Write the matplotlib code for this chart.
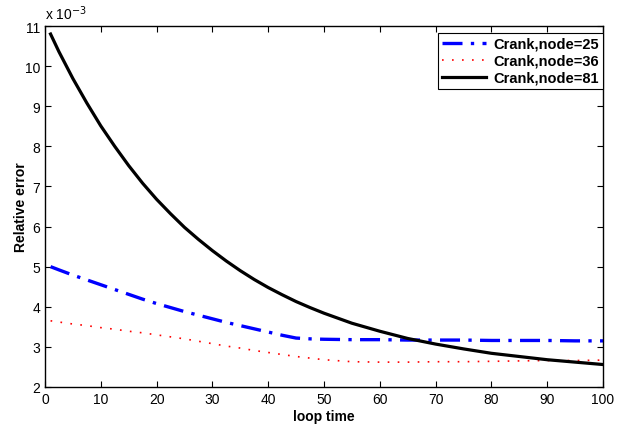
import matplotlib
matplotlib.use("Agg")
from matplotlib import pyplot as plt

plt.rcParams['font.family'] = ['Liberation Sans', 'DejaVu Sans']

# loop time samples
loop_time = [1, 2.5, 5, 7.5, 10, 12.5, 15, 17.5, 20, 22.5, 25, 27.5, 30, 32.5, 35, 37.5, 40,
             42.5, 45, 47.5, 50, 55, 60, 65, 70, 75, 80, 85, 90, 95, 100]

# relative error, in units of 1e-3
err_node25 = [5.00, 4.92, 4.79, 4.67, 4.55, 4.43, 4.31, 4.19, 4.08, 3.98, 3.88, 3.79, 3.70,
              3.61, 3.53, 3.45, 3.37, 3.29, 3.22, 3.20, 3.19, 3.18, 3.18, 3.17, 3.17, 3.17,
              3.16, 3.16, 3.16, 3.15, 3.15]
err_node36 = [3.65, 3.62, 3.57, 3.53, 3.48, 3.44, 3.39, 3.35, 3.30, 3.25, 3.20, 3.14, 3.08,
              3.02, 2.97, 2.91, 2.86, 2.81, 2.76, 2.72, 2.68, 2.63, 2.62, 2.62, 2.63, 2.63,
              2.64, 2.65, 2.66, 2.66, 2.67]
err_node81 = [10.80, 10.36, 9.69, 9.08, 8.51, 8.00, 7.52, 7.08, 6.68, 6.32, 5.98, 5.68, 5.40,
              5.14, 4.90, 4.68, 4.48, 4.30, 4.13, 3.98, 3.84, 3.59, 3.39, 3.21, 3.07, 2.95,
              2.84, 2.76, 2.68, 2.62, 2.56]

labels = ["Crank,node=25", "Crank,node=36", "Crank,node=81"]
x_ticks = list(range(0, 101, 10))
y_ticks = list(range(2, 12))

fig = plt.figure(figsize=(6.3, 4.31), dpi=100)
ax = fig.add_axes([0.0714, 0.0998, 0.8857, 0.8375])

ax.plot(loop_time, err_node25, color="#0000ff", linestyle=(0, (6, 2.5, 1, 2.5)), linewidth=2.4, label=labels[0])
ax.plot(loop_time, err_node36, color="#ff0000", linestyle=(0, (1, 5)), linewidth=1.2, label=labels[1])
ax.plot(loop_time, err_node81, color="black", linestyle="-", linewidth=2.3, label=labels[2])

ax.set_xlim(0, 100)
ax.set_ylim(2, 11)
ax.set_xticks(x_ticks)
ax.set_yticks(y_ticks)
ax.tick_params(direction="in", length=4, width=0.8, top=True, right=True, labelsize=10)
for s in ax.spines.values():
    s.set_linewidth(1.0)

ax.set_xlabel("loop time", fontweight="bold", fontsize=10, labelpad=2)
ax.set_ylabel("Relative error", fontweight="bold", fontsize=10)
ax.yaxis.set_label_coords(-0.030, 0.5)
ax.text(0.0, 1.012, "x 10$^{-3}$", transform=ax.transAxes, fontsize=10, ha="left", va="bottom")

leg = ax.legend(loc="upper right", bbox_to_anchor=(1.0, 0.982), prop={"weight": "bold", "size": 10.5},
                fancybox=False, framealpha=1, edgecolor="black", handlelength=3.0,
                borderpad=0.3, labelspacing=0.2, handletextpad=0.5, borderaxespad=0.0)
leg.get_frame().set_linewidth(0.8)

fig.savefig("out.png", dpi=100)
